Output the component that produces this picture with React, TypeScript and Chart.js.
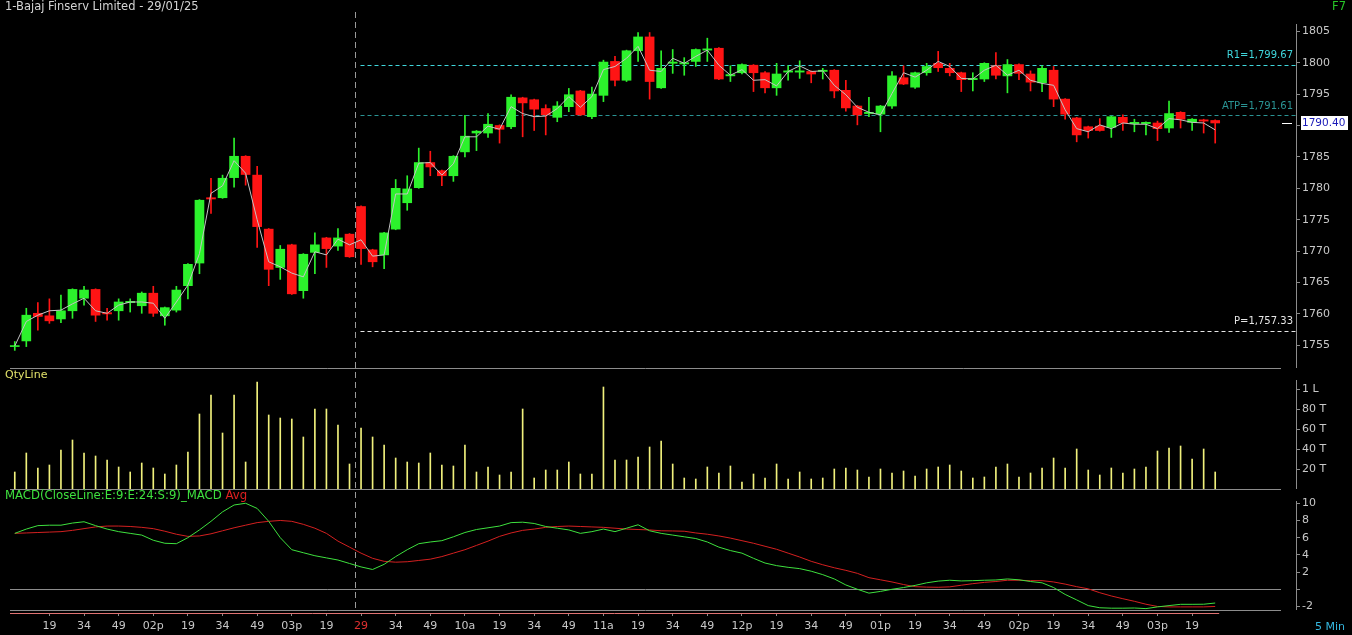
import React, { useEffect, useRef } from 'react';
import { Chart, registerables } from 'chart.js';

Chart.register(...registerables);

// ---------------- data ----------------
const chartTitle = '1-Bajaj Finserv Limited - 29/01/25';

const opens = [1754.8,1755.7,1760.1,1759.7,1759.2,1760.5,1762.5,1763.9,1760.2,1760.5,
1761.8,1761.3,1763.3,1759.7,1760.6,1764.5,1768.1,1778.5,1778.5,1781.7,
1785.1,1782.1,1773.5,1767.4,1771.0,1763.7,1769.8,1772.1,1770.8,1772.7,
1777.1,1770.2,1769.4,1773.5,1777.7,1780.1,1784.1,1782.8,1782.0,1785.8,
1788.8,1788.8,1790.0,1789.8,1794.4,1794.1,1792.7,1791.3,1793.0,1795.5,
1791.4,1794.8,1800.2,1797.2,1801.9,1804.1,1796.0,1799.9,1799.8,1800.2,
1802.0,1802.3,1797.9,1798.4,1799.6,1798.4,1796.0,1798.5,1798.5,1798.6,
1798.6,1798.8,1795.6,1793.1,1791.9,1791.8,1793.1,1797.6,1796.1,1798.4,
1799.9,1799.1,1798.4,1797.3,1797.4,1799.5,1797.9,1799.7,1798.2,1796.8,
1798.8,1794.2,1791.2,1789.8,1789.9,1789.7,1791.3,1790.3,1790.3,1790.4,
1789.6,1792.1,1790.5,1790.9,1790.8];

const highs = [1755.6,1760.9,1761.8,1762.4,1763.0,1764.0,1764.4,1764.0,1760.9,1762.4,
1762.4,1763.5,1764.4,1761.1,1764.4,1768.0,1778.2,1781.6,1782.1,1788.0,
1785.2,1783.5,1773.6,1770.9,1771.1,1769.6,1772.9,1772.2,1773.6,1772.8,
1777.2,1770.3,1773.0,1781.4,1782.0,1786.4,1785.9,1782.9,1785.2,1791.6,
1789.2,1791.9,1790.1,1794.9,1794.5,1794.2,1793.3,1793.8,1795.9,1795.6,
1796.1,1800.4,1801.0,1802.0,1804.8,1804.8,1801.9,1802.1,1800.8,1802.2,
1803.9,1802.4,1799.5,1799.8,1799.7,1798.6,1799.9,1799.5,1800.3,1798.7,
1799.1,1798.9,1797.2,1793.2,1794.5,1793.2,1798.6,1799.5,1798.5,1799.9,
1801.8,1799.9,1798.5,1798.4,1800.0,1801.6,1800.5,1799.8,1798.7,1799.5,
1799.4,1794.3,1791.3,1789.9,1791.1,1791.5,1791.7,1791.0,1790.6,1790.7,
1793.9,1792.2,1791.1,1791.0,1790.9];

const lows = [1754.2,1754.8,1757.4,1758.5,1758.6,1759.3,1761.4,1758.8,1759.0,1759.0,
1760.3,1760.1,1759.6,1758.2,1760.3,1762.4,1766.4,1776.0,1778.4,1780.2,
1780.5,1770.6,1764.5,1765.5,1763.1,1762.5,1766.4,1767.4,1770.1,1769.0,
1767.9,1767.5,1767.2,1773.4,1776.5,1780.0,1782.0,1780.4,1781.1,1785.0,
1786.0,1788.1,1787.2,1789.5,1788.2,1789.2,1788.5,1790.6,1792.2,1791.6,
1791.1,1793.8,1796.3,1797.0,1800.2,1794.2,1795.9,1798.3,1798.0,1799.4,
1800.2,1797.3,1797.0,1798.2,1795.4,1795.2,1794.8,1797.2,1797.5,1796.8,
1797.4,1794.4,1792.3,1790.1,1791.4,1789.0,1792.7,1796.5,1795.9,1798.0,
1798.6,1797.9,1795.4,1795.5,1797.0,1797.4,1795.2,1797.3,1795.5,1795.4,
1793.0,1791.0,1787.4,1788.0,1789.1,1788.1,1789.2,1789.0,1788.5,1787.6,
1788.9,1789.6,1789.2,1788.8,1787.2];

const closes = [1754.9,1759.8,1759.6,1758.9,1760.5,1763.9,1763.8,1759.8,1760.0,1761.9,
1762.0,1763.3,1760.1,1761.0,1763.8,1767.9,1778.1,1778.3,1781.6,1785.1,
1782.2,1773.9,1767.1,1770.3,1763.2,1769.5,1771.0,1770.4,1772.1,1769.1,
1770.4,1768.3,1772.9,1780.0,1779.9,1784.1,1783.4,1782.0,1785.1,1788.3,
1789.1,1790.2,1789.4,1794.5,1793.6,1792.6,1791.7,1793.1,1794.9,1791.7,
1795.0,1800.1,1797.2,1801.9,1804.1,1797.0,1799.1,1800.1,1800.0,1802.1,
1802.2,1797.4,1798.1,1799.7,1798.4,1796.0,1798.2,1798.7,1798.7,1798.2,
1798.8,1795.5,1792.8,1791.7,1792.1,1793.1,1797.9,1796.6,1798.4,1799.4,
1799.2,1798.4,1797.3,1797.5,1799.9,1798.0,1799.7,1798.3,1796.9,1799.1,
1794.2,1791.8,1788.5,1789.2,1789.2,1791.4,1790.4,1790.5,1790.5,1789.5,
1791.9,1791.0,1791.0,1790.7,1790.4];

const closeLine = [1754.9,1758.8,1759.8,1760.5,1760.6,1761.6,1762.5,1760.5,1760.1,1761.4,
1761.9,1761.9,1761.7,1759.3,1761.9,1764.6,1769.6,1779.2,1780.4,1784.4,
1782.4,1775.0,1768.3,1767.5,1766.5,1765.9,1769.9,1769.4,1771.9,1771.0,
1771.8,1769.2,1769.4,1779.1,1779.1,1784.0,1784.1,1782.1,1783.9,1788.2,
1788.2,1789.9,1789.4,1793.0,1791.9,1791.4,1791.5,1792.7,1794.6,1792.9,
1794.6,1798.9,1799.4,1800.7,1802.6,1798.8,1798.6,1800.7,1799.9,1801.0,
1802.0,1799.6,1798.0,1798.9,1797.2,1797.3,1796.3,1798.6,1799.5,1798.6,
1798.7,1796.4,1794.9,1792.9,1792.1,1791.7,1795.1,1798.4,1797.7,1798.8,
1800.2,1799.4,1797.5,1797.4,1798.8,1799.6,1798.0,1798.8,1797.2,1796.7,
1796.4,1792.5,1789.5,1789.0,1790.1,1789.5,1790.4,1790.2,1790.2,1789.5,
1791.1,1790.9,1790.5,1790.4,1789.3];

// volume in thousands (T); 1 L = 100 T
const volumes = [17,36,21,24,39,49,36,33,29,22,
17,26,21,15,24,37,75,94,56,94,
27,107,74,71,70,52,80,80,64,25,
61,52,44,31,27,26,36,24,23,44,
17,22,14,17,80,11,19,19,27,15,
15,102,29,29,32,42,48,25,11,10,
22,16,23,7,15,11,25,10,17,10,
11,20,21,19,12,20,16,18,13,20,
22,24,18,11,12,22,25,12,16,21,
31,21,40,19,14,21,16,20,22,38,
41,43,30,40,17];

const macdLine = [6.5,7.0,7.4,7.45,7.45,7.7,7.85,7.4,7.0,6.7,
6.5,6.3,5.7,5.35,5.3,6.0,6.9,7.9,9.0,9.8,
10.0,9.4,7.9,6.0,4.6,4.25,3.9,3.65,3.4,3.0,
2.6,2.3,2.9,3.8,4.6,5.3,5.5,5.65,6.1,6.6,
6.95,7.15,7.35,7.75,7.8,7.65,7.3,7.1,6.9,6.5,
6.7,7.0,6.7,7.1,7.5,6.8,6.5,6.3,6.1,5.9,
5.5,4.9,4.5,4.2,3.6,3.05,2.75,2.55,2.4,2.1,
1.7,1.2,0.5,0.0,-0.45,-0.25,0.0,0.2,0.45,0.75,
0.95,1.05,0.97,1.0,1.05,1.08,1.2,1.1,0.9,0.75,
0.2,-0.6,-1.24,-1.9,-2.15,-2.2,-2.2,-2.18,-2.25,-2.05,
-1.9,-1.75,-1.75,-1.74,-1.6];

const signalLine = [6.5,6.55,6.6,6.65,6.7,6.85,7.05,7.25,7.35,7.35,
7.3,7.2,7.05,6.75,6.4,6.15,6.2,6.45,6.8,7.15,
7.45,7.75,7.9,8.0,7.9,7.55,7.1,6.5,5.6,4.9,
4.2,3.6,3.25,3.15,3.2,3.35,3.5,3.8,4.2,4.6,
5.1,5.6,6.15,6.55,6.85,7.0,7.2,7.3,7.35,7.3,
7.25,7.2,7.1,7.0,6.95,6.9,6.8,6.78,6.75,6.55,
6.4,6.2,5.95,5.65,5.35,5.0,4.65,4.2,3.75,3.25,
2.85,2.5,2.2,1.85,1.35,1.1,0.85,0.55,0.3,0.25,
0.23,0.28,0.47,0.65,0.8,0.9,1.05,1.05,1.0,1.0,
0.85,0.6,0.3,0.05,-0.4,-0.78,-1.1,-1.4,-1.74,-2.0,
-2.05,-2.05,-2.05,-2.05,-2.0];

const timeTickLabels = ['19','34','49','02p','19','34','49','03p','19','29','34','49','10a','19','34','49','11a',
  '19','34','49','12p','19','34','49','01p','19','34','49','02p','19','34','49','03p','19'];
const timeTickStart = 3;
const timeTickStep = 3;
const dayTickLabel = '29';
const dayBreakIndex = 29.5;

const priceTicks = [1755, 1760, 1765, 1770, 1775, 1780, 1785, 1790, 1795, 1800, 1805];
const volumeTicks = [20, 40, 60, 80, 100];
const volumeTickLabels = ['20 T', '40 T', '60 T', '80 T', '1 L'];
const macdTicks = [-2, 0, 2, 4, 6, 8, 10];

const levelNames = ['R1', 'ATP', 'P'];
const levelValues = [1799.67, 1791.61, 1757.33];
const lastPrice = 1790.4;

// ---------------- styles ----------------
const FONT = '"DejaVu Sans", Verdana, sans-serif';
const GREEN = '#2cf22c';
const RED = '#ff1414';
const GRAY = '#8c8c8c';
const LABEL = '#c8c8c8';
const levelColors = ['#3fd6dc', '#2a9494', '#e6e6e6'];

const fmtLevel = (v: number) =>
  v.toLocaleString('en-US', { minimumFractionDigits: 2, maximumFractionDigits: 2 });

const decorPlugin = {
  id: 'decor',
  beforeDatasetsDraw(chart: any) {
    const { ctx, chartArea: ca, scales } = chart;
    const xs = scales.x, yp = scales.y, yv = scales.yv, ym = scales.ym;
    const L = ca.left + 1;
    const Rsep = ca.right - 15;
    ctx.save();
    ctx.lineWidth = 1;
    ctx.strokeStyle = GRAY;
    const hl = (y: number, x0: number, x1: number) => {
      const yy = Math.round(y) + 0.5;
      ctx.beginPath();
      ctx.moveTo(x0, yy);
      ctx.lineTo(x1, yy);
      ctx.stroke();
    };
    hl(yp.bottom, L, Rsep);
    hl(yv.bottom, L, Rsep);
    hl(ym.getPixelForValue(0), L, Rsep);
    hl(ym.bottom - 3, L, Rsep);
    const dx = Math.round(xs.getPixelForValue(dayBreakIndex)) + 0.5;
    ctx.setLineDash([6, 4]);
    ctx.strokeStyle = '#9a9a9a';
    ctx.beginPath();
    ctx.moveTo(dx, ca.top);
    ctx.lineTo(dx, ym.bottom - 3);
    ctx.stroke();
    ctx.setLineDash([4, 3]);
    levelValues.forEach((v, k) => {
      ctx.strokeStyle = levelColors[k];
      hl(yp.getPixelForValue(v), dx + 5, ca.right);
    });
    ctx.restore();
  },
  afterDraw(chart: any) {
    const { ctx, chartArea: ca, scales, width } = chart;
    const xs = scales.x, yp = scales.y, yv = scales.yv, ym = scales.ym;
    ctx.save();
    ctx.textBaseline = 'middle';
    // header
    ctx.font = `11.5px ${FONT}`;
    ctx.textAlign = 'left';
    ctx.fillStyle = '#d4d4d4';
    ctx.fillText(chartTitle, 5, 7);
    ctx.textAlign = 'right';
    ctx.fillStyle = '#27c627';
    ctx.fillText('F7', width - 6, 7);
    // level labels
    ctx.font = `10px ${FONT}`;
    levelValues.forEach((v, k) => {
      ctx.fillStyle = levelColors[k];
      ctx.fillText(`${levelNames[k]}=${fmtLevel(v)}`, ca.right - 3, yp.getPixelForValue(v) - 9);
    });
    // panel titles
    ctx.textAlign = 'left';
    ctx.font = `11px ${FONT}`;
    ctx.fillStyle = '#e2e26a';
    ctx.fillText('QtyLine', 5, yv.top + 7);
    ctx.font = `11.7px ${FONT}`;
    const macdTitle = 'MACD(CloseLine:E:9:E:24:S:9)_MACD';
    ctx.fillStyle = '#3ee03e';
    ctx.fillText(macdTitle, 5, ym.top + 7);
    const w = ctx.measureText(macdTitle + ' ').width;
    ctx.fillStyle = '#e02020';
    ctx.fillText('Avg', 5 + w, ym.top + 7);
    // axis lines
    ctx.strokeStyle = GRAY;
    ctx.lineWidth = 1;
    const ax = Math.round(ca.right) + 0.5;
    [yp, yv, ym].forEach((s: any) => {
      ctx.beginPath();
      ctx.moveTo(ax, s.top + 12);
      ctx.lineTo(ax, s === ym ? s.bottom - 3 : s.bottom);
      ctx.stroke();
    });
    // x axis base line
    ctx.strokeStyle = '#e07272';
    ctx.beginPath();
    ctx.moveTo(ca.left + 1, Math.round(ca.bottom) + 0.5);
    ctx.lineTo(xs.getPixelForValue(opens.length - 1) + 4, Math.round(ca.bottom) + 0.5);
    ctx.stroke();
    // last price marker
    const ly = Math.round(yp.getPixelForValue(lastPrice));
    ctx.fillStyle = '#ffffff';
    ctx.fillRect(ca.right - 14, ly, 10, 1);
    ctx.fillRect(ca.right + 5, ly - 7, 47, 14);
    ctx.fillStyle = '#1a1ab8';
    ctx.font = `10.5px ${FONT}`;
    ctx.fillText(lastPrice.toFixed(2), ca.right + 6, ly);
    // interval
    ctx.textAlign = 'right';
    ctx.font = `11px ${FONT}`;
    ctx.fillStyle = '#35b8e0';
    ctx.fillText('5 Min', width - 7, 627);
    ctx.restore();
  },
};

export default function App() {
  const ref = useRef<HTMLCanvasElement>(null);
  useEffect(() => {
    const canvas = ref.current;
    if (!canvas) return;
    const candleColors = opens.map((o, i) => (closes[i] >= o ? GREEN : RED));
    const tickFont = { family: FONT, size: 11 };
    const chart = new Chart(canvas, {
      type: 'bar',
      data: {
        datasets: [
          {
            type: 'line',
            label: 'Close line',
            data: closeLine.map((v, i) => ({ x: i, y: v })),
            yAxisID: 'y',
            borderColor: '#c4c4c4',
            borderWidth: 1,
            pointRadius: 0,
            tension: 0,
            order: 0,
          },
          {
            type: 'bar',
            label: 'Body',
            data: opens.map((o, i) => ({ x: i, y: [o, closes[i]] })),
            yAxisID: 'y',
            backgroundColor: candleColors,
            borderWidth: 0,
            barThickness: 9,
            minBarLength: 1,
            grouped: false,
            order: 1,
          },
          {
            type: 'bar',
            label: 'Wick',
            data: lows.map((l, i) => ({ x: i, y: [l, highs[i]] })),
            yAxisID: 'y',
            backgroundColor: candleColors,
            borderWidth: 0,
            barThickness: 1,
            grouped: false,
            order: 2,
          },
          {
            type: 'bar',
            label: 'QtyLine',
            data: volumes.map((v, i) => ({ x: i, y: v })),
            yAxisID: 'yv',
            backgroundColor: '#f0f07c',
            borderWidth: 0,
            barThickness: 1,
            grouped: false,
            order: 3,
          },
          {
            type: 'line',
            label: 'MACD',
            data: macdLine.map((v, i) => ({ x: i, y: v })),
            yAxisID: 'ym',
            borderColor: '#3ee03e',
            borderWidth: 1,
            pointRadius: 0,
            tension: 0,
            order: 1,
          },
          {
            type: 'line',
            label: 'Avg',
            data: signalLine.map((v, i) => ({ x: i, y: v })),
            yAxisID: 'ym',
            borderColor: '#d42020',
            borderWidth: 1,
            pointRadius: 0,
            tension: 0,
            order: 2,
          },
        ] as any,
      },
      options: {
        responsive: false,
        animation: false,
        events: [],
        layout: { padding: { top: 12, left: 9, right: 0, bottom: 0 } },
        plugins: { legend: { display: false }, tooltip: { enabled: false } },
        scales: {
          x: {
            type: 'linear',
            min: -0.5,
            max: 111,
            offset: false,
            afterBuildTicks: (s: any) => {
              s.ticks = timeTickLabels.map((_, k) => ({ value: timeTickStart + k * timeTickStep }));
            },
            afterFit: (s: any) => { s.height = 22; },
            grid: { drawOnChartArea: false, offset: false, tickLength: 3, color: GRAY },
            border: { display: false },
            ticks: {
              autoSkip: false,
              maxRotation: 0,
              padding: 4,
              font: tickFont,
              color: (c: any) => (timeTickLabels[c.index] === dayTickLabel ? '#e03030' : LABEL),
              callback: (_v: any, i: number) => timeTickLabels[i] ?? '',
            },
          },
          y: {
            type: 'linear',
            position: 'right',
            stack: 'panes',
            stackWeight: 356,
            min: 1751.39,
            max: 1808.07,
            afterBuildTicks: (s: any) => { s.ticks = priceTicks.map((v) => ({ value: v })); },
            afterFit: (s: any) => { s.width = 56; },
            grid: { drawOnChartArea: false, tickLength: 4, color: GRAY },
            border: { display: false },
            ticks: { autoSkip: false, padding: 2, font: tickFont, color: LABEL, callback: (v: any) => String(v) },
          },
          yv: {
            type: 'linear',
            position: 'right',
            stack: 'panes',
            stackWeight: 121,
            min: 0,
            max: 121,
            afterBuildTicks: (s: any) => { s.ticks = volumeTicks.map((v) => ({ value: v })); },
            afterFit: (s: any) => { s.width = 56; },
            grid: { drawOnChartArea: false, tickLength: 4, color: GRAY },
            border: { display: false },
            ticks: { autoSkip: false, padding: 2, font: tickFont, color: LABEL, callback: (_v: any, i: number) => volumeTickLabels[i] },
          },
          ym: {
            type: 'linear',
            position: 'right',
            stack: 'panes',
            stackWeight: 124,
            min: -2.76,
            max: 11.66,
            afterBuildTicks: (s: any) => { s.ticks = macdTicks.map((v) => ({ value: v })); },
            afterFit: (s: any) => { s.width = 56; },
            grid: { drawOnChartArea: false, tickLength: 4, color: GRAY },
            border: { display: false },
            ticks: { autoSkip: false, padding: 2, font: tickFont, color: LABEL, callback: (v: any) => (v === 0 ? '' : String(v)) },
          },
        } as any,
      },
      plugins: [decorPlugin],
    });
    return () => chart.destroy();
  }, []);
  return (
    <div style={{ position: 'fixed', left: 0, top: 0, width: 1352, height: 635, background: '#000', overflow: 'hidden' }}>
      <canvas ref={ref} width={1352} height={635} style={{ display: 'block' }} />
    </div>
  );
}
